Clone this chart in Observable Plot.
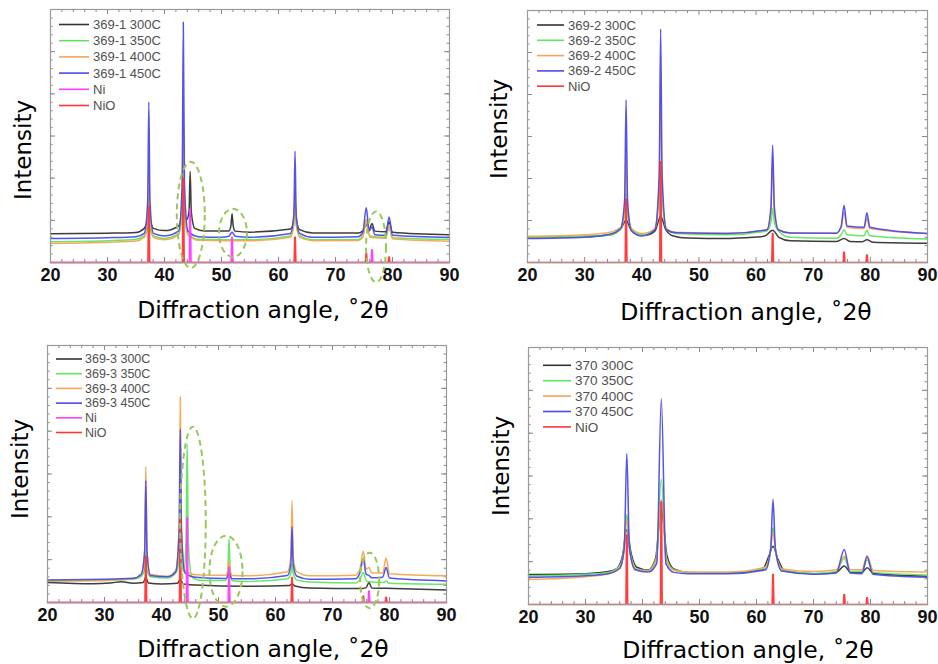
<!DOCTYPE html>
<html><head><meta charset="utf-8">
<script src="https://cdn.jsdelivr.net/npm/d3@7"></script>
<script src="https://cdn.jsdelivr.net/npm/@observablehq/plot@0.6"></script>
<style>
body{margin:0;background:#fff;}
#wrap{position:relative;width:938px;height:664px;overflow:hidden;background:#fff;}
.panel{position:absolute;}
</style></head><body><div id="wrap"></div>
<script>
// ---------- axis ticks ----------
const xMajor = [20, 30, 40, 50, 60, 70, 80, 90];
const xMinor = [22,24,26,28,32,34,36,38,42,44,46,48,52,54,56,58,62,64,66,68,72,74,76,78,82,84,86,88];
const yMajor = d3.range(0, 100.01, 100 / 6);
const yMinor = d3.range(0, 100.01, 100 / 30);
const xLabel = "Diffraction angle, ˚2θ";
const yLabel = "Intensity";

// ---------- colours ----------
const C300 = "#333333", C350 = "#5ee65e", C400 = "#f5a553", C450 = "#4b4be8", CNi = "#ff3cff", CNiO = "#ff3535";

// ---------- panel 1 : 369-1 ----------
const p1_300 = [[20,11.4],[30,11.6],[35,11.9],[36.45,13.5],[37.05,18],[37.25,28],[37.45,18],[38.05,13.5],[40,12.6],[42.5,14.5],[43.1,22],[43.3,40],[43.5,22],[43.9,17],[44.3,20],[44.5,36],[44.7,20],[45.3,13.5],[47,12.5],[51.3,12.5],[51.65,14.5],[51.85,19.3],[52.05,14.5],[52.4,12.4],[55,12],[62.1,13.2],[62.7,17],[62.9,24],[63.1,17],[63.7,13],[66,11.7],[74,11.7],[74.8,12.5],[75.4,15],[75.9,13],[76.4,15.4],[76.9,12.4],[78.8,12.2],[79.4,16],[80,12],[90,11]];
const p1_350 = [[20,8.2],[30,8.6],[35,9.2],[36.45,10.5],[37.05,13.5],[37.25,21],[37.45,13.5],[38.05,10.5],[40,9.5],[42.5,11.5],[43.1,20],[43.3,45],[43.5,20],[44.1,11.5],[46,9.2],[55,9],[62.1,10.5],[62.7,15],[62.9,26],[63.1,15],[63.7,10.5],[66,9],[74,9.1],[74.8,10.5],[75.4,16],[76,10.5],[78.8,10],[79.4,14],[80,9.8],[90,9.1]];
const p1_400 = [[20,7.5],[30,8],[35,8.5],[36.45,10],[37.05,18],[37.25,40],[37.45,18],[38.05,10],[40,9],[42.5,11],[43.1,25],[43.3,60],[43.5,25],[44.1,11],[46,8.8],[55,8.6],[62.1,10],[62.7,16],[62.9,30.5],[63.1,16],[63.7,10],[66,8.6],[74,8.7],[74.8,10],[75.4,17],[76,10],[78.8,9.6],[79.4,14.5],[80,9.4],[90,8.4]];
const p1_450 = [[20,9.5],[30,9.8],[35,10.2],[36.45,11.5],[37.05,24],[37.25,63.4],[37.45,24],[38.05,11.5],[40,10.5],[42.5,12.5],[43.1,31],[43.3,95],[43.5,31],[44.1,12.5],[46,10.2],[50,10],[51.3,10.4],[51.85,12],[52.4,10.4],[55,10],[62.1,11.5],[62.7,19],[62.9,44],[63.1,19],[63.7,11.5],[66,10],[74,10.2],[74.8,12],[75.4,21.6],[75.9,12.5],[76.4,14],[76.9,11],[78.8,10.8],[79.4,18],[80,10.8],[90,9.9]];
const p1_Ni = [[20,0],[44.35,0],[44.45,21],[44.55,21],[44.65,0],[51.7,0],[51.8,10],[51.9,10],[52,0],[76.25,0],[76.35,5],[76.45,5],[76.55,0],[90,0]];
const p1_NiO = [[20,0],[37.1,0],[37.2,22],[37.3,22],[37.4,0],[43.15,0],[43.25,33],[43.35,33],[43.45,0],[62.75,0],[62.85,10],[62.95,10],[63.05,0],[75.25,0],[75.35,3.5],[75.45,3.5],[75.55,0],[79.25,0],[79.35,2.2],[79.45,2.2],[79.55,0],[90,0]];
const p1_ellipses = [{x:44.7,y:18.6,rx:2.45,ry:21},{x:52.1,y:11.5,rx:2.45,ry:9.5},{x:77.2,y:6,rx:1.75,ry:14}];

// ---------- panel 2 : 369-2 ----------
const p2_300 = [[20,9.9],[30,10.3],[34,10.8],[35.5,11.8],[36.5,14],[37.25,16.8],[38,13.5],[39,11.5],[41,11],[42.3,12.5],[43.3,18.4],[44.2,13],[45.5,10.5],[48,9.7],[55,9.5],[58,9.8],[61.5,10.5],[62.9,12.8],[64,10],[66,8.6],[74,8.3],[75.4,9.5],[76.5,8.3],[78.5,8.2],[79.4,9],[80.5,8],[90,7.6]];
const p2_350 = [[20,9.9],[30,10.4],[34,10.8],[36.2,13],[36.9,18],[37.25,27.6],[37.6,18],[38.3,13],[40,11],[42.2,13],[42.9,22],[43.3,38],[43.7,22],[44.4,13],[46,11.5],[55,11],[61.9,12.5],[62.6,16],[62.9,21.4],[63.2,16],[63.9,12.5],[66,10],[74,9.6],[74.9,11],[75.4,13],[75.9,11],[78.9,10.6],[79.4,12.8],[79.9,10.6],[90,9.3]];
const p2_400 = [[20,10.4],[30,11],[34,11.8],[36.3,14],[37,22],[37.25,45],[37.5,22],[38.2,13.5],[40,11.5],[42.3,13.5],[43.05,30],[43.3,69.6],[43.55,30],[44.3,13.5],[46,12],[55,11.6],[61.9,13],[62.6,20],[62.9,40],[63.2,20],[63.9,13],[66,11.6],[74,11.6],[74.9,14],[75.4,20],[75.9,14],[78.9,13.5],[79.4,17.5],[79.9,13.5],[90,11.5]];
const p2_450 = [[20,9.5],[30,10],[34,11],[36.3,13.5],[37,25],[37.25,64.6],[37.5,25],[38.2,12.5],[40,10.5],[42.3,13],[43.05,35],[43.3,92.7],[43.55,35],[44.3,13],[46,11.8],[55,11.5],[61.9,13],[62.6,22],[62.9,46.5],[63.2,22],[63.9,13],[66,11.7],[74,11.6],[74.9,14.5],[75.4,22.7],[75.9,14.5],[78.9,14],[79.4,19.7],[79.9,14],[90,11.5]];
const p2_NiO = [[20,0],[37.1,0],[37.2,25],[37.3,25],[37.4,0],[43.15,0],[43.25,40],[43.35,40],[43.45,0],[62.75,0],[62.85,11.5],[62.95,11.5],[63.05,0],[75.25,0],[75.35,4],[75.45,4],[75.55,0],[79.25,0],[79.35,3],[79.45,3],[79.55,0],[90,0]];

// ---------- panel 3 : 369-3 ----------
const p3_300 = [[20,7.8],[28,7.3],[31,7.6],[33,8.1],[35,7.5],[36.8,7.8],[37.25,9.8],[37.7,7.6],[40,7.2],[42.8,7.5],[43.3,9],[43.8,7.2],[46,6.8],[55,6.3],[62.4,6.6],[62.9,7.2],[63.4,6.4],[66,5.6],[75,5.4],[75.9,5.8],[76.4,7.8],[76.9,5.6],[79.4,5.5],[90,4.9]];
const p3_350 = [[20,8.4],[30,8.6],[35,9],[36.45,10.2],[37.05,13],[37.25,20],[37.45,13],[38.05,10],[41,9.5],[42.5,11.5],[43.1,17],[43.3,30],[43.5,17],[43.9,12],[44.3,24],[44.5,61.7],[44.7,24],[45.3,10],[47,8.6],[51.3,8.6],[51.65,13],[51.85,24.7],[52.05,13],[52.4,8.5],[55,8.2],[62.1,9.2],[62.7,11.5],[62.9,15],[63.1,11.5],[63.7,8.8],[66,8],[74,7.6],[74.8,8.8],[75.4,11.7],[76,8.2],[79,7.8],[79.4,8.4],[79.9,7.5],[90,7.1]];
const p3_400 = [[20,8.4],[30,8.6],[35,9.3],[36.45,11],[37.05,20],[37.25,53],[37.45,20],[38.05,11],[41,10.2],[42.5,12.5],[43.1,30],[43.3,80],[43.5,30],[44.1,12.5],[46,10.8],[51.3,10.6],[51.65,12.5],[51.85,16],[52.05,12.5],[52.4,10.5],[55,10.4],[62.1,12],[62.7,18],[62.9,39.6],[63.1,18],[63.7,12],[66,10.4],[74,10.6],[74.8,13],[75.4,19.9],[75.9,13],[76.4,13.6],[76.9,11.5],[78.8,11.5],[79.4,17.3],[80,11.2],[90,10.4]];
const p3_450 = [[20,8.8],[30,9],[35,9.4],[36.45,11],[37.05,20],[37.25,47.4],[37.45,20],[38.05,10.5],[41,10],[42.5,12],[43.1,28],[43.3,67.5],[43.5,28],[44.1,11.5],[46,9.8],[51.3,9.3],[51.65,10.5],[51.85,12],[52.05,10.5],[52.4,9.2],[55,9.2],[62.1,10.5],[62.7,15],[62.9,29.5],[63.1,15],[63.7,10.3],[66,9],[74,9.2],[74.8,11.5],[75.4,16.9],[75.9,11],[76.4,10.5],[76.9,9.6],[78.8,9.8],[79.4,13.6],[80,9.5],[90,8.4]];
const p3_Ni = [[20,0],[44.35,0],[44.45,33],[44.55,33],[44.65,0],[51.7,0],[51.8,13.6],[51.9,13.6],[52,0],[76.25,0],[76.35,4.5],[76.45,4.5],[76.55,0],[90,0]];
const p3_NiO = [[20,0],[37.1,0],[37.2,18],[37.3,18],[37.4,0],[43.15,0],[43.25,33],[43.35,33],[43.45,0],[62.75,0],[62.85,9.7],[62.95,9.7],[63.05,0],[75.25,0],[75.35,2.5],[75.45,2.5],[75.55,0],[79.25,0],[79.35,2],[79.45,2],[79.55,0],[90,0]];
const p3_ellipses = [{x:45.6,y:30.9,rx:2.25,ry:37.3},{x:51.4,y:12,rx:2.9,ry:13.8},{x:76.6,y:8.4,rx:1.67,ry:10.8}];

// ---------- panel 4 : 370 ----------
const p4_300 = [[20,11.7],[30,12],[34,12.8],[35.5,14],[36.5,19],[37.25,29.2],[38,20],[39,14.5],[41,13.4],[42.3,18],[43.3,37],[44.3,19],[45.5,13.8],[48,12.5],[55,12.3],[61,13.5],[62.2,19],[62.9,22.7],[63.7,18],[65,13],[70,12],[74,12.5],[75.4,15],[76.5,12.5],[78.5,12.5],[79.4,14.3],[80.5,12.2],[90,11]];
const p4_350 = [[20,11.2],[30,11.8],[34,12.5],[36,15],[36.7,21],[37.25,35],[37.8,21],[39,13.8],[41,13.2],[42.4,18],[43.3,48.7],[44.2,18],[45.5,13.4],[48,12.5],[55,12.3],[61.5,14],[62.4,20],[62.9,30],[63.4,20],[64.5,13.4],[70,12],[74,12.8],[75.4,18],[76.5,12.8],[78.5,12.8],[79.4,17.3],[80.5,12.5],[90,11.5]];
const p4_400 = [[20,9.7],[30,10.8],[34,12],[36,14.5],[36.7,20],[37.25,33],[37.8,20],[39,13.5],[41,13],[42.4,17],[43.3,41],[44.2,17],[45.5,13.4],[48,12.6],[55,12.6],[61.5,14.5],[62.4,20],[62.9,28],[63.4,20],[64.5,13.8],[70,12.8],[74,13.5],[75.4,18.8],[76.5,13.5],[78.5,13.5],[79.4,19],[80.5,13.2],[90,12.6]];
const p4_450 = [[20,10.6],[30,11.2],[34,12],[36,14],[36.8,22],[37.25,58.8],[37.7,22],[38.7,13.5],[41,12.6],[42.5,16],[43.3,80],[44.1,16],[45.5,12.5],[48,12],[55,12],[61.6,13.5],[62.5,22],[62.9,41],[63.3,22],[64.4,13],[70,11.8],[74,12.3],[75.4,21.4],[76.4,12.3],[78.5,12],[79.4,18.6],[80.4,11.8],[90,10.6]];
const p4_NiO = [[20,0],[37.1,0],[37.2,27],[37.3,27],[37.4,0],[43.15,0],[43.25,40],[43.35,40],[43.45,0],[62.75,0],[62.85,11.7],[62.95,11.7],[63.05,0],[75.25,0],[75.35,3.9],[75.45,3.9],[75.55,0],[79.25,0],[79.35,2.6],[79.45,2.6],[79.55,0],[90,0]];

// ---------- panel setup (layout only) ----------
const panels = [
  {left:0, top:0, width:469, height:332, m:[9,20,70,50],
   series:[["369-1 300C",C300,p1_300],["369-1 350C",C350,p1_350],["369-1 400C",C400,p1_400],["369-1 450C",C450,p1_450],["Ni",CNi,p1_Ni,true],["NiO",CNiO,p1_NiO,true]],
   ellipses:p1_ellipses, leg:{x0:9,x1:39,tx:43,y0:15.5,dy:16.2,fs:13}, xl:[263,318], yl:[31,150]},
  {left:469, top:0, width:469, height:332, m:[10,11,70,58],
   series:[["369-2 300C",C300,p2_300],["369-2 350C",C350,p2_350],["369-2 400C",C400,p2_400],["369-2 450C",C450,p2_450],["NiO",CNiO,p2_NiO,true]],
   ellipses:[], leg:{x0:10,x1:37,tx:41,y0:15,dy:15.3,fs:13}, xl:[277,320], yl:[38,129]},
  {left:0, top:332, width:469, height:332, m:[13,23,62,47],
   series:[["369-3 300C",C300,p3_300],["369-3 350C",C350,p3_350],["369-3 400C",C400,p3_400],["369-3 450C",C450,p3_450],["Ni",CNi,p3_Ni,true],["NiO",CNiO,p3_NiO,true]],
   ellipses:p3_ellipses, leg:{x0:9,x1:35,tx:38,y0:14,dy:14.7,fs:12.5}, xl:[263,325], yl:[28,137]},
  {left:469, top:332, width:469, height:332, m:[15,11,60,59],
   series:[["370 300C",C300,p4_300],["370 350C",C350,p4_350],["370 400C",C400,p4_400],["370 450C",C450,p4_450],["NiO",CNiO,p4_NiO,true]],
   ellipses:[], leg:{x0:15,x1:43,tx:47,y0:18.3,dy:15.4,fs:13.5}, xl:[279,326], yl:[40,134]}
];

const svgNS = "http://www.w3.org/2000/svg";
function el(tag, attrs, text) {
  const e = document.createElementNS(svgNS, tag);
  for (const k in attrs) e.setAttribute(k, attrs[k]);
  if (text != null) e.textContent = text;
  return e;
}

const wrap = document.getElementById("wrap");
for (const p of panels) {
  const [mt, mr, mb, ml] = p.m;
  const W = p.width - ml - mr, H = p.height - mt - mb;
  const tickStroke = "#8a8a8a";
  const marks = [
    // inward ticks on all four sides
    Plot.tickX(xMajor, {x: d => d, insetTop: H - 5, stroke: tickStroke}),
    Plot.tickX(xMajor, {x: d => d, insetBottom: H - 5, stroke: tickStroke}),
    Plot.tickX(xMinor, {x: d => d, insetTop: H - 3, stroke: tickStroke}),
    Plot.tickX(xMinor, {x: d => d, insetBottom: H - 3, stroke: tickStroke}),
    Plot.tickY(yMajor, {y: d => d, insetRight: W - 5, stroke: tickStroke}),
    Plot.tickY(yMajor, {y: d => d, insetLeft: W - 5, stroke: tickStroke}),
    Plot.tickY(yMinor, {y: d => d, insetRight: W - 2.5, stroke: tickStroke}),
    Plot.tickY(yMinor, {y: d => d, insetLeft: W - 2.5, stroke: tickStroke}),
  ];
  for (const [name, color, data, isRef] of p.series) {
    marks.push(Plot.line(data, {x: d => d[0], y: d => d[1], stroke: color,
      strokeWidth: isRef ? 1.6 : 1.5, strokeOpacity: 0.95, curve: isRef ? "linear" : "monotone-x"}));
  }
  marks.push(Plot.frame({stroke: "#9a9a9a", strokeWidth: 1.2}));
  marks.push(Plot.axisX(xMajor, {tickSize: 0, tickPadding: 6, fontSize: 18, fontWeight: "bold", fill: "#111", label: null}));
  // dashed annotation ellipses positioned with the plot's scales
  const ell = p.ellipses;
  marks.push((index, scales) => {
    const g = el("g", {});
    for (const e of ell) {
      const cx = scales.x(e.x), cy = scales.y(e.y);
      const rx = Math.abs(scales.x(e.x + e.rx) - cx), ry = Math.abs(scales.y(e.y + e.ry) - cy);
      g.appendChild(el("ellipse", {cx, cy, rx, ry, fill: "none", stroke: "#97c95a", "stroke-width": 2, "stroke-dasharray": "6,4"}));
    }
    return g;
  });
  // legend + axis titles
  const series = p.series, leg = p.leg, xl = p.xl, yl = p.yl;
  marks.push(() => {
    const g = el("g", {});
    series.forEach(([name, color], i) => {
      const y = mt + leg.y0 + i * leg.dy;
      g.appendChild(el("line", {x1: ml + leg.x0, x2: ml + leg.x1, y1: y, y2: y, stroke: color, "stroke-width": 1.6}));
      g.appendChild(el("text", {x: ml + leg.tx, y: y, dy: "0.35em", "text-anchor": "start", "font-size": leg.fs, fill: "#505050", "font-family": "Liberation Sans, Arial, sans-serif"}, name));
    });
    g.appendChild(el("text", {x: xl[0], y: xl[1], "text-anchor": "middle", "font-size": 23.5, fill: "#000", "font-family": "DejaVu Sans, sans-serif"}, xLabel));
    g.appendChild(el("text", {transform: `translate(${yl[0]},${yl[1]}) rotate(-90)`, "text-anchor": "middle", "font-size": 23, fill: "#000", "font-family": "DejaVu Sans, sans-serif"}, yLabel));
    return g;
  });
  const chart = Plot.plot({
    width: p.width, height: p.height,
    marginTop: mt, marginRight: mr, marginBottom: mb, marginLeft: ml,
    x: {domain: [20, 90], axis: null},
    y: {domain: [0, 100], axis: null},
    style: {fontFamily: "Liberation Sans, Arial, sans-serif", background: "transparent", overflow: "visible"},
    marks
  });
  const div = document.createElement("div");
  div.className = "panel";
  div.style.left = p.left + "px";
  div.style.top = p.top + "px";
  div.appendChild(chart);
  wrap.appendChild(div);
}
</script>
</body></html>
